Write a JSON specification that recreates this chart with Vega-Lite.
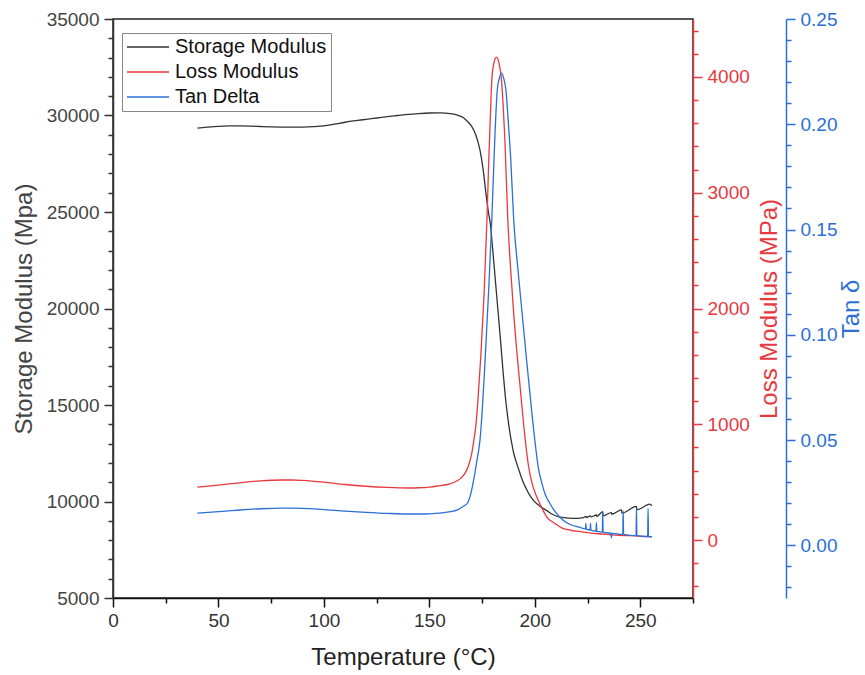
{
  "$schema": "https://vega.github.io/schema/vega-lite/v6.json",
  "width": 580,
  "height": 579,
  "autosize": {"type": "none"},
  "padding": {"left": 113, "top": 19, "right": 172, "bottom": 77},
  "background": "white",
  "config": {
    "view": {"stroke": "#222222", "strokeWidth": 1.5},
    "axis": {"grid": false, "labelFont": "Liberation Sans", "titleFont": "Liberation Sans", "labelFontSize": 19, "titleFontSize": 24, "titleFontWeight": "normal", "labelOverlap": false, "labelFlush": false, "tickWidth": 1.5, "domainWidth": 1.5, "tickSize": 9},
    "legend": {"labelFont": "Liberation Sans"}
  },
  "datasets": {
    "storage": [
      {"T":40,"v":29350},{"T":45,"v":29400},{"T":50,"v":29440},{"T":55,"v":29460},{"T":60,"v":29460},{"T":65,"v":29450},{"T":70,"v":29430},{"T":75,"v":29410},{"T":80,"v":29400},{"T":85,"v":29395},{"T":90,"v":29400},{"T":95,"v":29420},{"T":100,"v":29460},{"T":105,"v":29550},{"T":110,"v":29650},{"T":115,"v":29730},{"T":120,"v":29800},{"T":125,"v":29870},{"T":130,"v":29940},{"T":135,"v":30000},{"T":140,"v":30060},{"T":145,"v":30100},{"T":150,"v":30130},{"T":155,"v":30140},{"T":160,"v":30100},{"T":163,"v":30030},{"T":166,"v":29900},{"T":168,"v":29700},{"T":170,"v":29450},{"T":172,"v":29000},{"T":174,"v":28200},{"T":175.5,"v":27200},{"T":177,"v":25800},{"T":178,"v":25000},{"T":179,"v":24300},{"T":180,"v":23100},{"T":181.5,"v":21200},{"T":183,"v":19300},{"T":184,"v":18000},{"T":185,"v":16650},{"T":186,"v":15450},{"T":187,"v":14500},{"T":188,"v":13700},{"T":189,"v":13050},{"T":190,"v":12500},{"T":191.5,"v":11950},{"T":193,"v":11450},{"T":194.3,"v":11050},{"T":196,"v":10650},{"T":198,"v":10250},{"T":200,"v":9980},{"T":202.4,"v":9760},{"T":206,"v":9500},{"T":209,"v":9300},{"T":212,"v":9190},{"T":216,"v":9140},{"T":220,"v":9130},{"T":223,"v":9160},{"T":224.2,"v":9230},{"T":224.4,"v":9170},{"T":226.4,"v":9260},{"T":226.6,"v":9200},{"T":229.2,"v":9300},{"T":229.4,"v":9230},{"T":232.2,"v":9470},{"T":232.4,"v":9260},{"T":236.3,"v":9420},{"T":236.5,"v":9340},{"T":241.1,"v":9570},{"T":241.3,"v":9400},{"T":248.2,"v":9745},{"T":248.4,"v":9570},{"T":254.5,"v":9865},{"T":255.5,"v":9780}
    ],
    "loss": [
      {"T":40,"v":458},{"T":50,"v":475},{"T":60,"v":495},{"T":70,"v":512},{"T":80,"v":519},{"T":85,"v":519},{"T":90,"v":515},{"T":100,"v":500},{"T":110,"v":480},{"T":120,"v":465},{"T":130,"v":455},{"T":140,"v":450},{"T":145,"v":452},{"T":150,"v":458},{"T":155,"v":470},{"T":158,"v":478},{"T":161,"v":493},{"T":163,"v":510},{"T":165,"v":535},{"T":167,"v":580},{"T":168.5,"v":640},{"T":170,"v":740},{"T":171,"v":850},{"T":172,"v":980},{"T":173,"v":1200},{"T":174.5,"v":1620},{"T":176,"v":2150},{"T":177.3,"v":2764},{"T":178.2,"v":3300},{"T":179,"v":3700},{"T":179.6,"v":3973},{"T":180.5,"v":4110},{"T":181.8,"v":4170},{"T":183,"v":4120},{"T":184.2,"v":3973},{"T":185,"v":3750},{"T":185.8,"v":3455},{"T":187.2,"v":2764},{"T":188.5,"v":2350},{"T":190,"v":1950},{"T":191.5,"v":1620},{"T":193,"v":1330},{"T":194.5,"v":1037},{"T":196,"v":780},{"T":197,"v":640},{"T":199,"v":470},{"T":201,"v":370},{"T":203,"v":290},{"T":205.7,"v":199},{"T":209,"v":150},{"T":213,"v":104},{"T":217,"v":85},{"T":221,"v":75},{"T":225,"v":65},{"T":230,"v":55},{"T":235,"v":48},{"T":240,"v":42},{"T":245,"v":38},{"T":250,"v":33},{"T":255.5,"v":30}
    ],
    "tan": [
      {"T":40,"v":0.0153},{"T":50,"v":0.016},{"T":60,"v":0.0168},{"T":70,"v":0.0174},{"T":80,"v":0.0177},{"T":85,"v":0.0177},{"T":90,"v":0.0176},{"T":100,"v":0.017},{"T":110,"v":0.0163},{"T":120,"v":0.0157},{"T":130,"v":0.0152},{"T":140,"v":0.0149},{"T":145,"v":0.0149},{"T":150,"v":0.015},{"T":155,"v":0.0153},{"T":160,"v":0.016},{"T":163,"v":0.0167},{"T":166,"v":0.0185},{"T":168,"v":0.02},{"T":169.5,"v":0.024},{"T":171,"v":0.031},{"T":172.5,"v":0.04},{"T":174,"v":0.05},{"T":175,"v":0.063},{"T":176,"v":0.08},{"T":177,"v":0.099},{"T":178.3,"v":0.125},{"T":179.6,"v":0.1545},{"T":181,"v":0.1925},{"T":182.2,"v":0.2163},{"T":183.2,"v":0.222},{"T":184.2,"v":0.2243},{"T":185.2,"v":0.222},{"T":186.3,"v":0.2163},{"T":187.5,"v":0.2},{"T":188.5,"v":0.185},{"T":190,"v":0.1545},{"T":192,"v":0.131},{"T":194,"v":0.11},{"T":196,"v":0.089},{"T":198,"v":0.069},{"T":199,"v":0.059},{"T":200,"v":0.05},{"T":201.6,"v":0.0373},{"T":203.5,"v":0.029},{"T":205,"v":0.024},{"T":207.1,"v":0.02},{"T":210,"v":0.0155},{"T":213.3,"v":0.012},{"T":217,"v":0.0098},{"T":221,"v":0.0087},{"T":224.0,"v":0.0078},{"T":224.2,"v":0.0104},{"T":224.4,"v":0.0077},{"T":226.2,"v":0.0073},{"T":226.4,"v":0.0104},{"T":226.6,"v":0.0072},{"T":229.0,"v":0.0067},{"T":229.2,"v":0.0108},{"T":229.4,"v":0.0066},{"T":232.0,"v":0.0063},{"T":232.2,"v":0.016},{"T":232.4,"v":0.0062},{"T":236.1,"v":0.0058},{"T":236.3,"v":0.0035},{"T":236.5,"v":0.0057},{"T":241.7,"v":0.0052},{"T":241.9,"v":0.0164},{"T":242.1,"v":0.0052},{"T":248.0,"v":0.0046},{"T":248.2,"v":0.0175},{"T":248.4,"v":0.0046},{"T":253.5,"v":0.0042},{"T":253.7,"v":0.0175},{"T":253.9,"v":0.0042},{"T":255.5,"v":0.0041}
    ]
  },
  "encoding": {
    "x": {
      "field": "T", "type": "quantitative",
      "scale": {"domain": [0, 275], "nice": false, "zero": false},
      "axis": {
        "values": [0,25,50,75,100,125,150,175,200,225,250,275],
        "labelExpr": "datum.value % 50 === 0 ? datum.label : ''",
        "tickDash": {"condition": {"test": "datum.value % 50 !== 0", "value": [5, 30]}, "value": [1, 0]},
        "title": "Temperature (°C)",
        "domainColor": "#111111", "tickColor": "#111111",
        "labelColor": "#333333", "titleColor": "#222222",
        "labelPadding": 4, "titlePadding": 15
      }
    }
  },
  "layer": [
    {
      "data": {"name": "storage"},
      "mark": {"type": "line", "interpolate": "monotone", "strokeWidth": 1.3},
      "encoding": {
        "y": {
          "field": "v", "type": "quantitative",
          "scale": {"domain": [5000, 35000], "nice": false, "zero": false},
          "axis": {
            "orient": "left",
            "values": [5000,6000,7000,8000,9000,10000,11000,12000,13000,14000,15000,16000,17000,18000,19000,20000,21000,22000,23000,24000,25000,26000,27000,28000,29000,30000,31000,32000,33000,34000,35000],
            "labelExpr": "datum.value % 5000 === 0 ? format(datum.value, 'd') : ''",
            "tickDash": {"condition": {"test": "datum.value % 5000 !== 0", "value": [5, 30]}, "value": [1, 0]},
            "title": "Storage Modulus (Mpa)",
            "domainColor": "#333333", "tickColor": "#333333",
            "labelColor": "#444444", "titleColor": "#444444",
            "labelPadding": 5, "titlePadding": 10
          }
        },
        "color": {
          "datum": "Storage Modulus",
          "scale": {"domain": ["Storage Modulus", "Loss Modulus", "Tan Delta"], "range": ["#333333", "#e8393e", "#2b6fd6"]},
          "legend": {
            "title": null, "orient": "none", "legendX": 9, "legendY": 14,
            "strokeColor": "#888888", "padding": 4,
            "labelFontSize": 20, "labelColor": "#111111", "labelOffset": 5,
            "symbolType": "stroke", "symbolSize": 1764, "symbolStrokeWidth": 1.3,
            "clipHeight": 20, "rowPadding": 5
          }
        }
      }
    },
    {
      "data": {"name": "loss"},
      "mark": {"type": "line", "interpolate": "monotone", "strokeWidth": 1.3},
      "encoding": {
        "y": {
          "field": "v", "type": "quantitative",
          "scale": {"domain": [-500, 4500], "nice": false, "zero": false},
          "axis": {
            "orient": "right",
            "values": [-400,-200,0,200,400,600,800,1000,1200,1400,1600,1800,2000,2200,2400,2600,2800,3000,3200,3400,3600,3800,4000,4200,4400],
            "labelExpr": "datum.value % 1000 === 0 ? format(datum.value, 'd') : ''",
            "tickDash": {"condition": {"test": "datum.value % 1000 !== 0", "value": [5, 30]}, "value": [1, 0]},
            "title": "Loss Modulus (MPa)", "titleAngle": 270, "titleBaseline": "top",
            "domainColor": "#e8393e", "tickColor": "#e8393e",
            "labelColor": "#e8393e", "titleColor": "#e8393e",
            "labelPadding": 5, "titlePadding": 8
          }
        },
        "color": {"datum": "Loss Modulus"}
      }
    },
    {
      "data": {"name": "tan"},
      "mark": {"type": "line", "interpolate": "monotone", "strokeWidth": 1.3},
      "encoding": {
        "y": {
          "field": "v", "type": "quantitative",
          "scale": {"domain": [-0.025, 0.25], "nice": false, "zero": false},
          "axis": {
            "orient": "right", "offset": 93,
            "values": [-0.02,-0.01,0,0.01,0.02,0.03,0.04,0.05,0.06,0.07,0.08,0.09,0.1,0.11,0.12,0.13,0.14,0.15,0.16,0.17,0.18,0.19,0.2,0.21,0.22,0.23,0.24,0.25],
            "labelExpr": "abs(round(datum.value * 100)) % 5 === 0 ? format(datum.value, '.2f') : ''",
            "tickDash": {"condition": {"test": "abs(round(datum.value * 100)) % 5 !== 0", "value": [5, 30]}, "value": [1, 0]},
            "title": "Tan δ", "titleAngle": 270, "titleBaseline": "top",
            "domainColor": "#2b6fd6", "tickColor": "#2b6fd6",
            "labelColor": "#2b6fd6", "titleColor": "#2b6fd6",
            "labelPadding": 5, "titlePadding": 3
          }
        },
        "color": {"datum": "Tan Delta"}
      }
    }
  ],
  "resolve": {"scale": {"y": "independent"}, "axis": {"y": "independent"}}
}
